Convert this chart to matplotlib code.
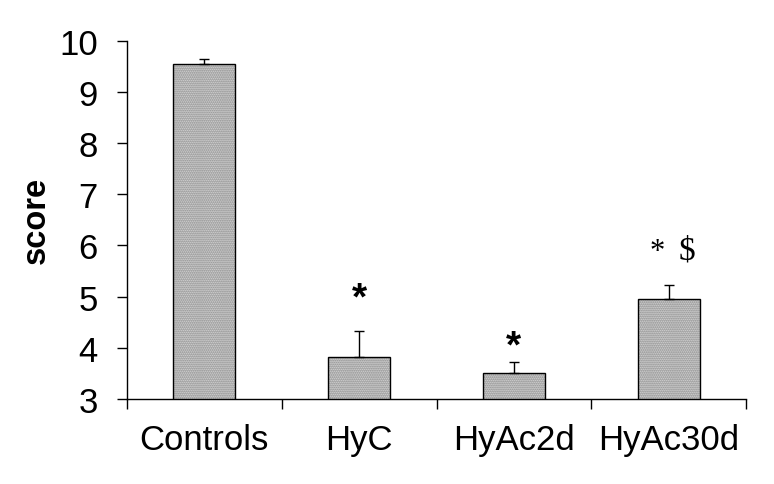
import matplotlib
matplotlib.use("Agg")
import matplotlib.pyplot as plt
import numpy as np

categories = ["Controls", "HyC", "HyAc2d", "HyAc30d"]
means = [9.55, 3.82, 3.50, 4.95]
errors = [0.10, 0.50, 0.23, 0.28]
y_ticks = [3, 4, 5, 6, 7, 8, 9, 10]
y_label = "score"

W, H = 774, 485
fig = plt.figure(figsize=(W / 100, H / 100), dpi=100)
ax = fig.add_axes([127 / W, 1 - 400 / H, 619 / W, (400 - 41.7) / H])

x = np.arange(len(categories))
# dotted fill
ax.bar(x, means, width=0.4, color="#e2e2e2", edgecolor="#7a7a7a", hatch="........",
       linewidth=0, zorder=2)
# outline
ax.bar(x, means, width=0.4, facecolor="none", edgecolor="black", linewidth=1.0, zorder=3)
ax.errorbar(x, means, yerr=[np.zeros(len(errors)), errors], fmt="none",
            ecolor="black", elinewidth=1.0, capsize=3.5, capthick=1.0, zorder=4)

ax.set_xlim(-0.5, len(categories) - 0.5)
ax.set_ylim(3, 10)
ax.set_yticks(y_ticks)
ax.set_yticklabels([str(t) for t in y_ticks], fontsize=25, family="Liberation Sans")
ax.tick_params(axis="y", direction="out", length=7, width=1, pad=14)

ax.set_xticks(x)
ax.set_xticklabels(categories, fontsize=25, family="Liberation Sans")
ax.tick_params(axis="x", which="major", length=0, pad=17)
ax.set_xticks(np.arange(len(categories) + 1) - 0.5, minor=True)
ax.tick_params(axis="x", which="minor", direction="out", length=7, width=1)

for s in ["top", "right"]:
    ax.spines[s].set_visible(False)
ax.spines["left"].set_linewidth(1)
ax.spines["bottom"].set_linewidth(1)

ax.set_ylabel(y_label, fontsize=23.5, fontweight="bold", family="Liberation Sans", labelpad=5)

# significance marks
ax.text(1, 4.76, "*", ha="center", va="baseline", fontsize=28, fontweight="bold",
        family="Liberation Sans")
ax.text(2, 3.84, "*", ha="center", va="baseline", fontsize=28, fontweight="bold",
        family="Liberation Sans")
ax.text(3 - 0.075, 5.74, "*", ha="center", va="baseline", fontsize=22, family="Liberation Serif")
ax.text(3 + 0.118, 5.74, "$", ha="center", va="baseline", fontsize=24, family="Liberation Serif")

fig.savefig("out.png", dpi=100)
